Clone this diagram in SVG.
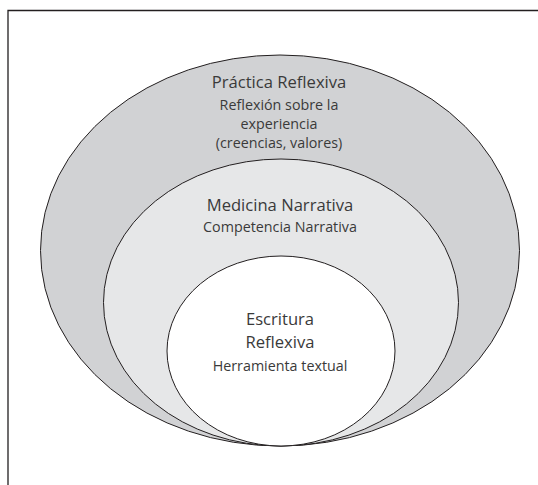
<svg xmlns="http://www.w3.org/2000/svg" width="538" height="485" viewBox="0 0 538 485">
<style>
.frame{fill:none;stroke:#231f20;stroke-width:1.3}
.ell{stroke:#231f20;stroke-width:1}
.t{font-family:"Open Sans","Noto Sans",sans-serif;fill:#3a3a3a;text-anchor:middle}
.big{font-size:16.6px}
.small{font-size:14.3px}
</style>
<rect width="538" height="485" fill="#ffffff"/>
<path class="frame" d="M8,485 V10.5 H538"/>
<g id="practica-reflexiva">
<ellipse class="ell" cx="280" cy="250.5" rx="239.5" ry="195.5" fill="#d1d2d4"/>
<text class="t big" x="279" y="88">Práctica Reflexiva</text>
<text class="t small" x="279" y="110">Reflexión sobre la</text>
<text class="t small" x="279" y="129">experiencia</text>
<text class="t small" x="279" y="148">(creencias, valores)</text>
</g>
<g id="medicina-narrativa">
<ellipse class="ell" cx="281" cy="302.5" rx="177.5" ry="143.5" fill="#e6e7e8"/>
<text class="t big" x="280" y="211">Medicina Narrativa</text>
<text class="t small" x="280" y="232">Competencia Narrativa</text>
</g>
<g id="escritura-reflexiva">
<ellipse class="ell" cx="281" cy="351" rx="114" ry="95" fill="#ffffff"/>
<text class="t big" x="280" y="325">Escritura</text>
<text class="t big" x="280" y="348">Reflexiva</text>
<text class="t small" x="280" y="371">Herramienta textual</text>
</g>
<g id="connectors"></g>
</svg>
